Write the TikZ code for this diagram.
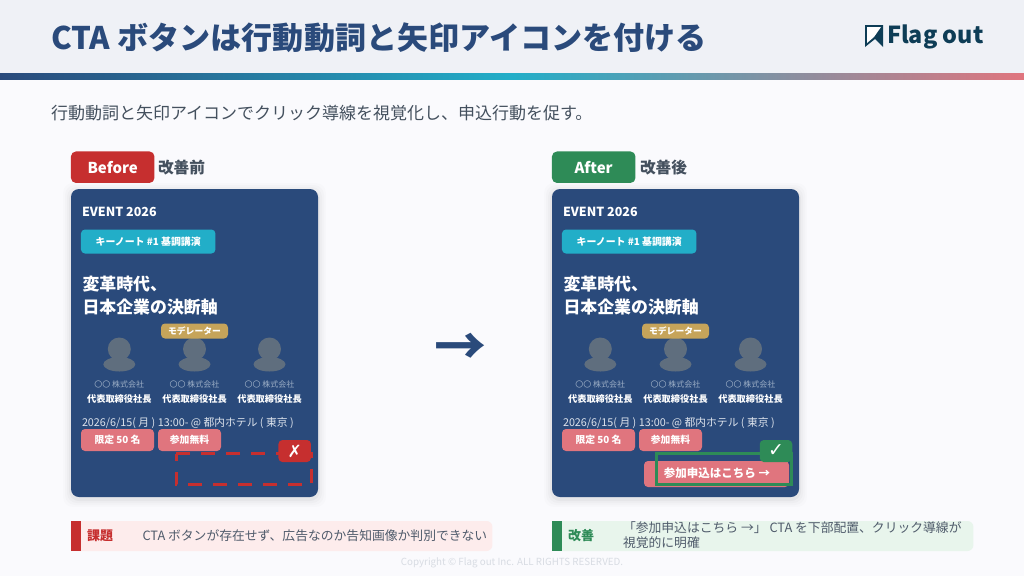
\documentclass[tikz,border=0pt]{standalone}
\usepackage{fontspec}
\setmainfont{Noto Sans CJK JP}
\newfontfamily\symfont{DejaVu Sans}
\usetikzlibrary{positioning}
\newlength{\du}
\setlength{\du}{0.75pt}
\newcommand{\fpx}[1]{\fontsize{#1\du}{1.2\dimexpr#1\du\relax}\selectfont}
\definecolor{headbg}{HTML}{EFF1F6}
\definecolor{pagebg}{HTML}{FAFAFD}
\definecolor{navy}{HTML}{2A4A7B}
\definecolor{teal}{HTML}{22AEC8}
\definecolor{salmon}{HTML}{E0757E}
\definecolor{badred}{HTML}{C62F2F}
\definecolor{goodgreen}{HTML}{2E8B57}
\definecolor{gold}{HTML}{C6A45A}
\definecolor{logoink}{HTML}{0E3D56}
\definecolor{subgrey}{HTML}{44505E}
\definecolor{bodygrey}{HTML}{4F5B6B}
\definecolor{avatar}{HTML}{5F6E7E}
\definecolor{companygrey}{HTML}{9DAFC6}
\definecolor{dategrey}{HTML}{DDE3EC}
\definecolor{footgrey}{HTML}{D8DCE3}
\definecolor{badbg}{HTML}{FDECEC}
\definecolor{goodbg}{HTML}{E8F5EC}
\tikzset{
  txt/.style={inner sep=0pt,outer sep=0pt},
  ltxt/.style={txt,anchor=west},
  pill/.style={txt,rounded corners=4\du,text=white,font=\fpx{9.8}\bfseries},
  tagpill/.style={pill,fill=salmon,minimum height=22\du},
  badge/.style={pill,minimum width=32.5\du,minimum height=22\du},
  headpill/.style={pill,rounded corners=5\du,minimum width=83.5\du,minimum height=31.5\du,font=\fpx{15}\bfseries},
  company/.style={txt,text=companygrey,font=\fpx{8}},
  position/.style={txt,text=white,font=\fpx{9.2}\bfseries},
}
% one event card, #1 = name prefix, #2 = x offset
\newcommand{\eventcard}[2]{
\begin{scope}[xshift=#2\du]
\foreach \grow/\op in {8/0.012,6/0.016,4/0.02,2/0.03}
  \fill[black,opacity=\op,rounded corners=10\du] (71-\grow,189-\grow+2) rectangle (318+\grow,497+\grow+2);
\node[txt,fill=navy,rounded corners=8\du,minimum width=247\du,minimum height=308\du] (#1card) at (194.5,343) {};
\node[ltxt,text=white,font=\fpx{12.5}\bfseries] (#1event) at (82,212) {EVENT 2026};
\node[pill,fill=teal,minimum width=134.5\du,minimum height=24\du,font=\fpx{9.9}\bfseries] (#1keynote) at (148.2,241.5) {キーノート \#1 基調講演};
\node[ltxt,text=white,font=\fpx{16.9}\bfseries] (#1headA) at (82.5,284) {変革時代、};
\node[ltxt,text=white,font=\fpx{16.9}\bfseries] (#1headB) at (82.5,307) {日本企業の決断軸};
\foreach \n/\x in {a/119.3,b/194.5,c/269.5}{
  \fill[avatar] (\x,349) circle (11.5);
  \fill[avatar] (\x,364.3) ellipse (16 and 7.2);
  \node[company] (#1co\n) at (\x,384.5) {〇〇 株式会社};
  \node[position] (#1pos\n) at (\x,399) {代表取締役社長};
}
\node[pill,fill=gold,minimum width=67\du,minimum height=15\du,font=\fpx{8.8}\bfseries] (#1mod) at (194.5,331) {モデレーター};
\node[ltxt,text=dategrey,font=\fpx{10.8}] (#1date) at (82,423.5) {2026/6/15( 月 ) 13:00- @ 都内ホテル ( 東京 )};
\node[tagpill,minimum width=73\du] (#1limit) at (117.5,440) {限定 50 名};
\node[tagpill,minimum width=63\du] (#1free) at (189.5,440) {参加無料};
\end{scope}
}
\begin{document}
\begin{tikzpicture}[x=\du,y=-\du]
\useasboundingbox (0,0) rectangle (1024,576);
\fill[pagebg] (0,0) rectangle (1024,576);
\fill[headbg] (0,0) rectangle (1024,73);
\shade[left color=navy,right color=teal] (0,73) rectangle (512,79);
\shade[left color=teal,right color=salmon] (512,73) rectangle (1024,79);
\node[ltxt,text=navy,font=\fpx{31.1}\bfseries] (title) at (51,38) {CTA ボタンは行動動詞と矢印アイコンを付ける};
% logo
\fill[logoink] (865,25) -- (883,25) -- (883,47) -- (875,39) -- (865,47) -- cycle;
\fill[white] (867,27) -- (881,27) -- (874,37) -- (867,43) -- cycle;
\node[ltxt,text=logoink,font=\fpx{23.4}\bfseries] (logo) at (887,36.5) {Flag out};
\node[ltxt,text=subgrey,font=\fpx{17}] (subtitle) at (51,113) {行動動詞と矢印アイコンでクリック導線を視覚化し、申込行動を促す。};
% left side
\node[headpill,fill=badred] (before) at (112.7,167.2) {Before};
\node[ltxt,text=subgrey,font=\fpx{15.7}\bfseries] (beforelabel) at (158,168) {改善前};
\eventcard{l}{0}
\node[txt,minimum width=135\du,minimum height=31\du] (slot) at (243.5,469) {};
\draw[badred,line width=3\du,dash pattern=on 14\du off 11\du] (slot.north west) -- (slot.north east) -- (slot.south east) -- (slot.south west) -- cycle;
\node[badge,fill=badred,font=\symfont\fpx{17}\bfseries] (cross) at (294.7,451) {✗};
% arrow between the cards
\node[txt,text=navy,font=\fpx{52}\bfseries] (next) at (460,349) {→};
% right side
\node[headpill,fill=goodgreen] (after) at (593.7,167.2) {After};
\node[ltxt,text=subgrey,font=\fpx{15.7}\bfseries] (afterlabel) at (640,168) {改善後};
\eventcard{r}{481}
\node[pill,fill=salmon,minimum width=145\du,minimum height=26\du] (cta) at (716.5,474) {};
\node[txt,text=white,font=\fpx{11.5}\bfseries] (ctatext) at (717,473.5) {参加申込はこちら →};
\node[txt,draw=goodgreen,line width=3\du,minimum width=135\du,minimum height=31\du] (slotok) at (724,469) {};
\node[badge,fill=goodgreen,font=\symfont\fpx{19}\bfseries] (check) at (776,451) {✓};
% notes
\node[txt,fill=badbg,rounded corners=6\du,minimum width=421.5\du,minimum height=30\du] (noteA) at (281.7,536) {};
\fill[badred] (71,521) rectangle (81,551);
\node[ltxt,text=badred,font=\fpx{13}\bfseries] (noteAlabel) at (87,535.5) {課題};
\node[ltxt,text=bodygrey,font=\fpx{12.8}] (noteAtext) at (142.5,535.5) {CTA ボタンが存在せず、広告なのか告知画像か判別できない};
\node[txt,fill=goodbg,rounded corners=6\du,minimum width=421.5\du,minimum height=30\du] (noteB) at (762.7,536) {};
\fill[goodgreen] (552,521) rectangle (562,551);
\node[ltxt,text=goodgreen,font=\fpx{13}\bfseries] (noteBlabel) at (568,535.5) {改善};
\node[ltxt,text=bodygrey,font=\fpx{12.8}] (noteBtextA) at (623,527.5) {「参加申込はこちら →」 CTA を下部配置、クリック導線が};
\node[ltxt,text=bodygrey,font=\fpx{12.8}] (noteBtextB) at (623,542.5) {視覚的に明確};
\node[txt,text=footgrey,font=\fpx{9.8}] (copyright) at (512,563) {Copyright © Flag out Inc. ALL RIGHTS RESERVED.};
\end{tikzpicture}
\end{document}
